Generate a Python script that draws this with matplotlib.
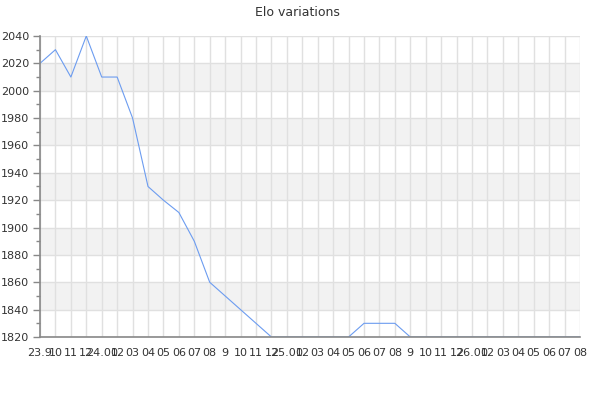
import numpy as np
import matplotlib
matplotlib.use("Agg")
import matplotlib.pyplot as plt
from matplotlib.ticker import MultipleLocator

# month labels as shown on the axis
labels = ["23.9", "10", "11", "12",
          "24.01", "02", "03", "04", "05", "06", "07", "08", "9", "10", "11", "12",
          "25.01", "02", "03", "04", "05", "06", "07", "08", "9", "10", "11", "12",
          "26.01", "02", "03", "04", "05", "06", "07", "08"]
elo = [2020, 2030, 2010, 2040, 2010, 2010, 1980, 1930, 1920, 1911, 1890, 1860,
       1850, 1840, 1830, 1820, 1820, 1820, 1820, 1820, 1820, 1830, 1830, 1830,
       1820, 1820, 1820, 1820, 1820, 1820, 1820, 1820, 1820, 1820, 1820, 1820]

ymin, ymax = 1820, 2040

fig = plt.figure(figsize=(6, 4), dpi=100)
ax = fig.add_axes([40/600, 1 - 337/400, 540/600, 301/400])

x = np.arange(len(elo))

# alternating bands
for lo in range(1840, 2040, 40):
    ax.axhspan(lo, lo + 20, color="#f2f2f2", zorder=0, lw=0)

ax.plot(x, elo, color="#6c9cf0", lw=0.8, zorder=2)

ax.set_xlim(0, len(elo) - 1)
ax.set_ylim(ymin, ymax)
ax.set_xticks(x)
ax.set_xticklabels(labels)
ax.yaxis.set_major_locator(MultipleLocator(20))
ax.yaxis.set_minor_locator(MultipleLocator(10))
ax.grid(True, which="major", color="#e0e0e0", lw=1, zorder=1)
ax.set_axisbelow(True)

for s in ["top", "right"]:
    ax.spines[s].set_visible(False)
for s in ["left", "bottom"]:
    ax.spines[s].set_color("#888888")
    ax.spines[s].set_linewidth(1.2)
    ax.spines[s].set_zorder(5)

ax.tick_params(axis="x", length=0, pad=8, labelsize=8, colors="#333333")
ax.tick_params(axis="y", which="major", length=5, width=1, color="#888888",
               labelsize=8, labelcolor="#333333", pad=3)
ax.tick_params(axis="y", which="minor", length=3, width=1, color="#888888")

fig.text(0.495, 1 - 12/400, "Elo variations", ha="center", va="center",
         fontsize=9, color="#333333")

fig.savefig("out.png", dpi=100)
